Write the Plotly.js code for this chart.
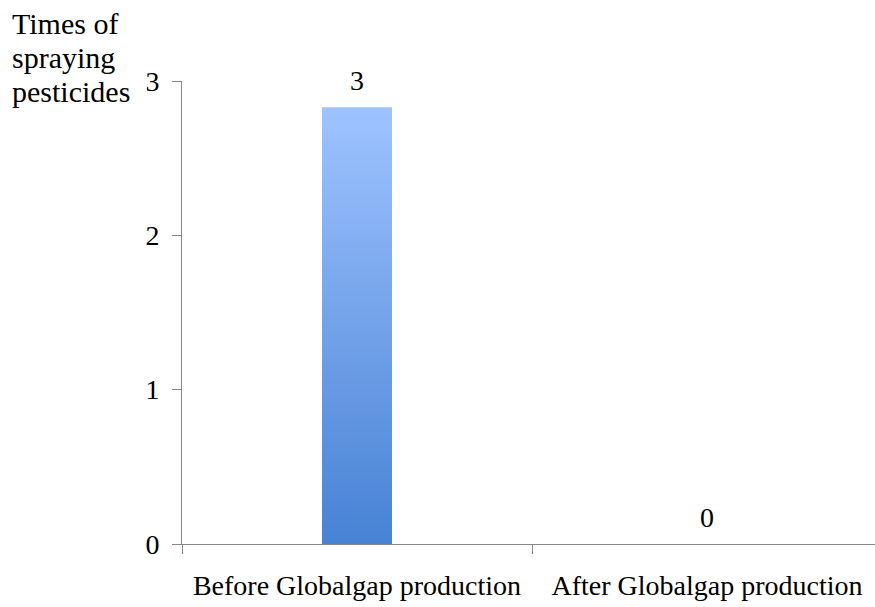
<!DOCTYPE html>
<html>
<head>
<meta charset="utf-8">
<script src="https://cdn.plot.ly/plotly-3.0.1.min.js"></script>
<style>html,body{margin:0;padding:0;background:#fff;}#chart{width:875px;height:607px;}</style>
</head>
<body>
<div id="chart"></div>
<script>
const categories = ["Before Globalgap production", "After Globalgap production"];
const values = [2.83, 0];
const valueLabels = ["3", "0"];
const yTicks = [0, 1, 2, 3];
const yTitleLines = ["Times of", "spraying", "pesticides"];

const FAMILY = "Liberation Serif";
const mk = size => ({family: FAMILY, size: size, color: "#000"});

const trace = {
  type: "bar",
  x: categories,
  y: values,
  text: valueLabels,
  textposition: "none",
  width: 0.2,
  marker: {color: "#6F9FE8"},
  hoverinfo: "skip"
};

const annotations = categories.map((c, i) => ({
  x: c, y: values[i], xref: "x", yref: "y",
  text: valueLabels[i], showarrow: false,
  yanchor: "bottom", yshift: 9,
  font: mk(28)
}));
const titleShifts = [58, 24, -10];
yTitleLines.forEach((line, i) => annotations.push({
  xref: "paper", yref: "paper", x: 0, y: 1, xanchor: "left", yanchor: "middle",
  xshift: -172, yshift: titleShifts[i], align: "left", showarrow: false,
  text: line, font: mk(30)
}));

const layout = {
  width: 875, height: 607,
  margin: {l: 182, r: 0, t: 81, b: 63},
  paper_bgcolor: "#fff", plot_bgcolor: "#fff",
  showlegend: false,
  font: mk(28),
  xaxis: {
    type: "category",
    range: [-0.5, 1.48],
    showline: true, linecolor: "#868686", linewidth: 1,
    ticks: "outside", tickson: "boundaries", ticklen: 9, tickcolor: "#868686",
    showgrid: false, zeroline: false,
    tickfont: mk(28),
    ticklabelstandoff: 16,
    fixedrange: true
  },
  yaxis: {
    range: [0, 3],
    tickvals: yTicks, ticktext: yTicks.map(String),
    showline: true, linecolor: "#868686", linewidth: 1,
    ticks: "outside", ticklen: 9, tickcolor: "#868686",
    showgrid: false, zeroline: false,
    tickfont: mk(28),
    ticklabelstandoff: 7,
    fixedrange: true
  },
  annotations: annotations
};

Plotly.newPlot("chart", [trace], layout, {displayModeBar: false, staticPlot: true}).then(gd => {
  const svg = gd.querySelector("svg.main-svg");
  const ns = "http://www.w3.org/2000/svg";
  let defs = svg.querySelector("defs");
  if (!defs) { defs = document.createElementNS(ns, "defs"); svg.insertBefore(defs, svg.firstChild); }
  const g = document.createElementNS(ns, "linearGradient");
  g.setAttribute("id", "barGrad");
  g.setAttribute("x1", "0"); g.setAttribute("y1", "0");
  g.setAttribute("x2", "0"); g.setAttribute("y2", "1");
  const s1 = document.createElementNS(ns, "stop");
  s1.setAttribute("offset", "0"); s1.setAttribute("stop-color", "#9EC3FF");
  const s2 = document.createElementNS(ns, "stop");
  s2.setAttribute("offset", "1"); s2.setAttribute("stop-color", "#4782D4");
  g.appendChild(s1); g.appendChild(s2); defs.appendChild(g);
  gd.querySelectorAll(".bars .point path").forEach(p => { p.style.fill = "url(#barGrad)"; });
});
</script>
</body>
</html>
